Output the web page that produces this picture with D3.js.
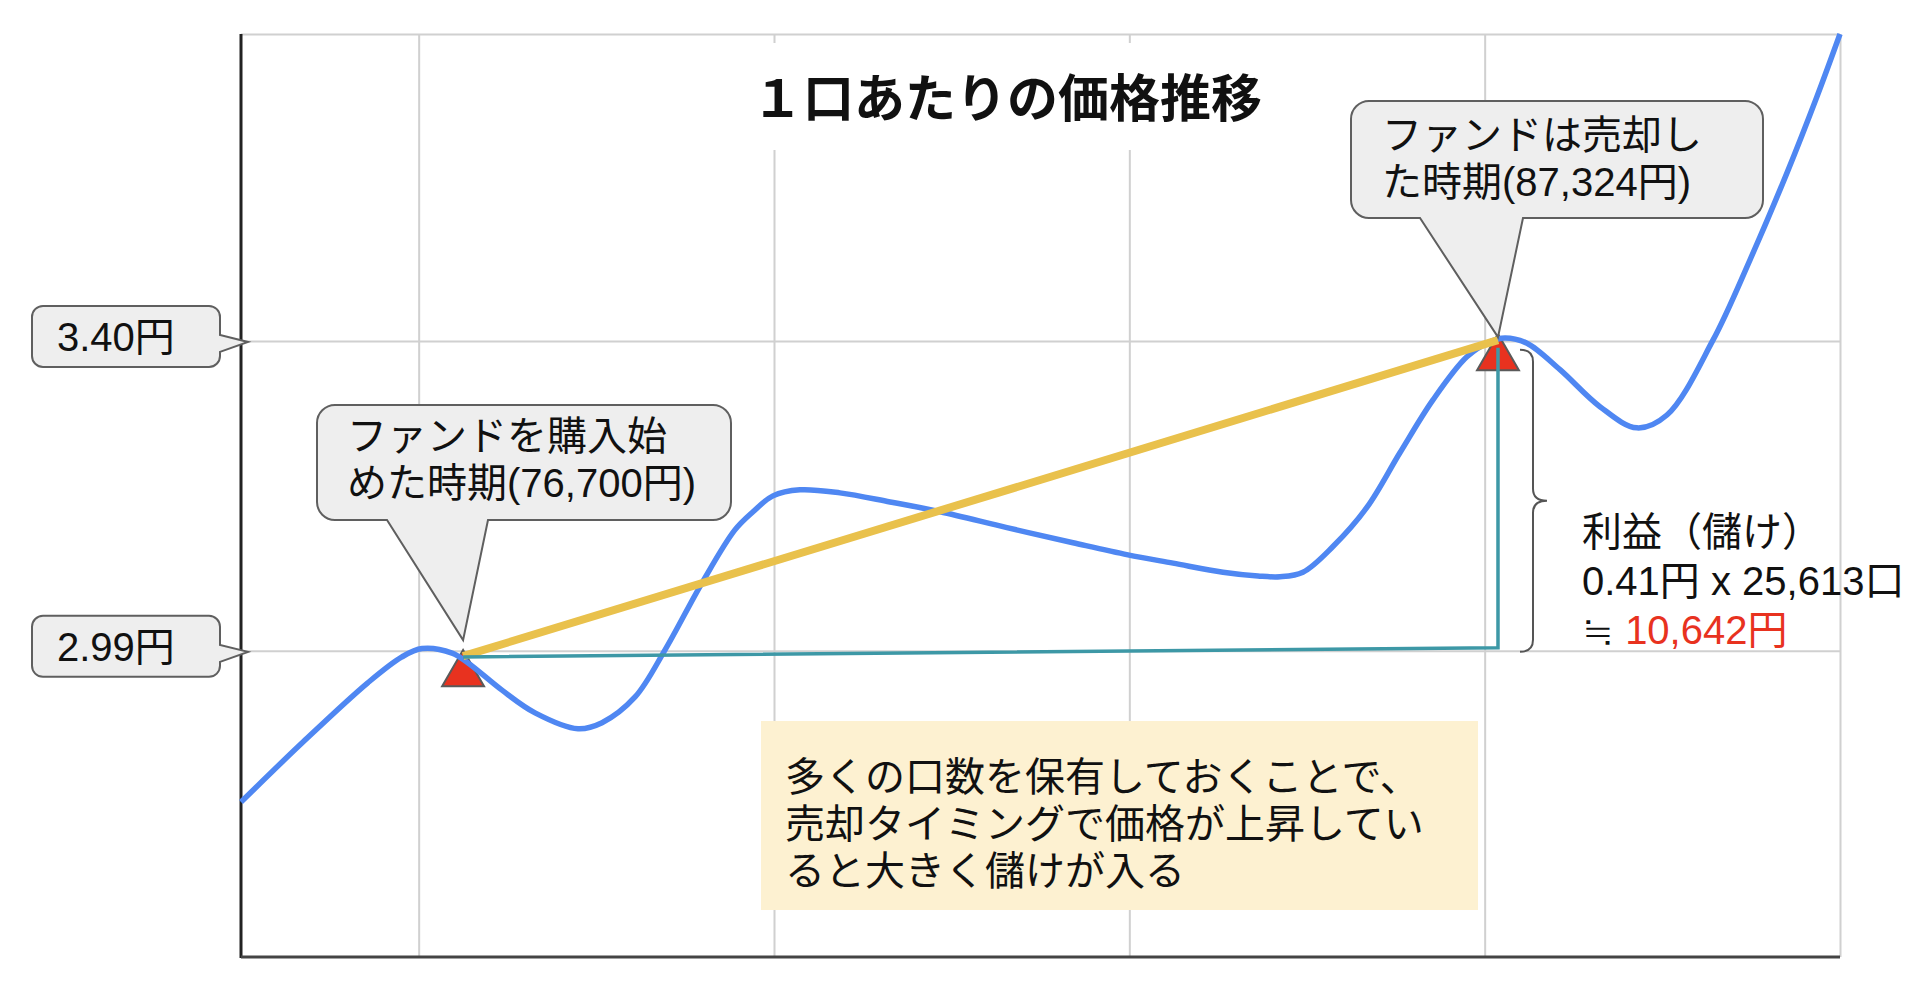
<!DOCTYPE html>
<html lang="ja">
<head>
<meta charset="utf-8">
<title>1口あたりの価格推移</title>
<script src="https://cdn.jsdelivr.net/npm/d3@7"></script>
<style>
  html, body { margin: 0; padding: 0; background: #fff; }
  svg { display: block; }
  text { font-family: "Liberation Sans", "Noto Sans CJK JP", sans-serif; fill: #111; }
</style>
</head>
<body>
<div id="chart"></div>
<script>
// 価格の推移（横軸は時期、縦軸は1口あたりの価格）
const timeX = [0, 0.343, 0.715, 0.906, 1.019, 1.188, 1.278, 1.469, 1.655, 1.897,
  2.032, 2.218, 2.386, 2.595, 2.780, 2.882, 2.994, 3.146, 3.371, 3.653,
  3.934, 4.311, 4.683, 4.992, 5.246, 5.527, 5.724, 5.848, 5.977, 6.146,
  6.338, 6.523, 6.709, 6.900, 7.030, 7.114, 7.238, 7.424, 7.649, 7.857,
  8.026, 8.285, 8.493, 8.701, 8.870, 9.0];
const priceY = [2.790, 2.868, 2.948, 2.982, 2.993, 2.987, 2.974, 2.938, 2.908, 2.887,
  2.895, 2.929, 2.991, 3.080, 3.150, 3.174, 3.195, 3.203, 3.199, 3.187,
  3.174, 3.153, 3.133, 3.117, 3.106, 3.094, 3.089, 3.088, 3.094, 3.128,
  3.180, 3.252, 3.322, 3.379, 3.399, 3.404, 3.397, 3.362, 3.313, 3.285,
  3.302, 3.401, 3.507, 3.622, 3.723, 3.806];

// 購入時と売却時
const tradeX = [1.25, 7.075];
const tradeY = [2.983, 3.401];
// 利益を示す線（購入価格の水平線 → 売却時の縦線）
const profitX = [1.25, 7.075, 7.075];
const profitY = [2.982, 2.994, 3.391];

// 縦軸の目盛り
const priceTicks = [3.40, 2.99];
const priceLabels = ['3.40円', '2.99円'];
const timeTicks = [1, 3, 5, 7, 9];

const title = '１口あたりの価格推移';
const buyText = ['ファンドを購入始', 'めた時期(76,700円)'];
const sellText = ['ファンドは売却し', 'た時期(87,324円)'];
const profitText = ['利益（儲け）', '0.41円 x 25,613口'];
const profitSum = ['≒ ', '10,642円'];
const noteText = ['多くの口数を保有しておくことで、', '売却タイミングで価格が上昇してい', 'ると大きく儲けが入る'];

const width = 1920;
const height = 983;
const margin = { top: 34, right: 80, bottom: 26, left: 241 };

const svg = d3.select('#chart').append('svg')
  .attr('width', width)
  .attr('height', height);

const x = d3.scaleLinear().domain([0, 9]).range([margin.left, width - margin.right]);
const y = d3.scaleLinear().domain([2.585, 3.806]).range([height - margin.bottom, margin.top]);

// グリッド線
const gridX = svg.append('g')
  .attr('transform', `translate(0,${margin.top})`)
  .call(d3.axisBottom(x).tickValues(timeTicks).tickSize(height - margin.top - margin.bottom).tickFormat(''));
gridX.select('.domain').remove();
gridX.selectAll('line').attr('stroke', '#d0d0d0').attr('stroke-width', 2);

const gridY = svg.append('g')
  .attr('transform', `translate(${margin.left},0)`)
  .call(d3.axisRight(y).tickValues(priceTicks.concat([3.806])).tickSize(width - margin.left - margin.right).tickFormat(''));
gridY.select('.domain').remove();
gridY.selectAll('line').attr('stroke', '#d0d0d0').attr('stroke-width', 2);

// 軸線
svg.append('line')
  .attr('x1', margin.left).attr('x2', margin.left)
  .attr('y1', margin.top).attr('y2', height - margin.bottom + 1)
  .attr('stroke', '#222').attr('stroke-width', 3);
svg.append('line')
  .attr('x1', margin.left).attr('x2', width - margin.right)
  .attr('y1', height - margin.bottom).attr('y2', height - margin.bottom)
  .attr('stroke', '#444').attr('stroke-width', 3);

// タイトル（白い背景でグリッドを隠す）
svg.append('rect')
  .attr('x', 745).attr('y', 43).attr('width', 540).attr('height', 107)
  .attr('fill', '#fff');
svg.append('text')
  .attr('x', 752).attr('y', 117)
  .attr('font-size', 51).attr('font-weight', 700)
  .text(title);

// 説明の箱
svg.append('rect')
  .attr('x', 761).attr('y', 721).attr('width', 717).attr('height', 189)
  .attr('fill', '#fdf1d1');
svg.append('g').selectAll('text')
  .data(noteText)
  .enter().append('text')
  .attr('x', 785)
  .attr('y', (d, i) => 791 + i * 47)
  .attr('font-size', 40)
  .text(d => d);

// 三角のマーカー
const tri = d3.symbol().type(d3.symbolTriangle).size(760);
svg.append('g').selectAll('path')
  .data(tradeX)
  .enter().append('path')
  .attr('d', tri)
  .attr('transform', (d, i) => `translate(${x(d)},${y(tradeY[i]) + 18})`)
  .attr('fill', '#e8321f')
  .attr('stroke', '#5a5a5a')
  .attr('stroke-width', 2);

// 価格の線
const line = d3.line()
  .x(d => x(d[0]))
  .y(d => y(d[1]))
  .curve(d3.curveCatmullRom.alpha(0.5));

svg.append('path')
  .datum(timeX.map((t, i) => [t, priceY[i]]))
  .attr('d', line)
  .attr('fill', 'none')
  .attr('stroke', '#4f87f2')
  .attr('stroke-width', 5.5)
  .attr('stroke-linejoin', 'round');

// 購入時と売却時を結ぶ線
const straight = d3.line()
  .x(d => x(d[0]))
  .y(d => y(d[1]));

svg.append('path')
  .datum(tradeX.map((t, i) => [t, tradeY[i]]))
  .attr('d', straight)
  .attr('fill', 'none')
  .attr('stroke', '#e9c14c')
  .attr('stroke-width', 8);

svg.append('path')
  .datum(profitX.map((t, i) => [t, profitY[i]]))
  .attr('d', straight)
  .attr('fill', 'none')
  .attr('stroke', '#3d98a6')
  .attr('stroke-width', 3.5);

// 吹き出しの形（下にしっぽ）
function calloutBottom(x0, y0, x1, y1, r, tx0, tx1, px, py) {
  const p = d3.path();
  p.moveTo(x0 + r, y0);
  p.lineTo(x1 - r, y0);
  p.arcTo(x1, y0, x1, y0 + r, r);
  p.lineTo(x1, y1 - r);
  p.arcTo(x1, y1, x1 - r, y1, r);
  p.lineTo(tx1, y1);
  p.lineTo(px, py);
  p.lineTo(tx0, y1);
  p.lineTo(x0 + r, y1);
  p.arcTo(x0, y1, x0, y1 - r, r);
  p.lineTo(x0, y0 + r);
  p.arcTo(x0, y0, x0 + r, y0, r);
  p.closePath();
  return p.toString();
}

// 吹き出しの形（右にしっぽ）
function calloutRight(x0, y0, x1, y1, r, ty0, ty1, px, py) {
  const p = d3.path();
  p.moveTo(x0 + r, y0);
  p.lineTo(x1 - r, y0);
  p.arcTo(x1, y0, x1, y0 + r, r);
  p.lineTo(x1, ty0);
  p.lineTo(px, py);
  p.lineTo(x1, ty1);
  p.lineTo(x1, y1 - r);
  p.arcTo(x1, y1, x1 - r, y1, r);
  p.lineTo(x0 + r, y1);
  p.arcTo(x0, y1, x0, y1 - r, r);
  p.lineTo(x0, y0 + r);
  p.arcTo(x0, y0, x0 + r, y0, r);
  p.closePath();
  return p.toString();
}

// 購入時の吹き出し
svg.append('path')
  .attr('d', calloutBottom(317, 405, 731, 520, 18, 387, 488, x(tradeX[0]), y(tradeY[0]) - 16))
  .attr('fill', '#eeeeee').attr('stroke', '#5f5f5f').attr('stroke-width', 2);
svg.append('g').selectAll('text')
  .data(buyText)
  .enter().append('text')
  .attr('x', 347)
  .attr('y', (d, i) => 450 + i * 47)
  .attr('font-size', 40)
  .text(d => d);

// 売却時の吹き出し
svg.append('path')
  .attr('d', calloutBottom(1351, 101, 1763, 218, 18, 1420, 1523, x(tradeX[1]), y(tradeY[1]) - 3))
  .attr('fill', '#eeeeee').attr('stroke', '#5f5f5f').attr('stroke-width', 2);
svg.append('g').selectAll('text')
  .data(sellText)
  .enter().append('text')
  .attr('x', 1382)
  .attr('y', (d, i) => 149 + i * 47)
  .attr('font-size', 40)
  .text(d => d);

// 縦軸の価格ラベル
const labels = svg.append('g').selectAll('g')
  .data(priceTicks)
  .enter().append('g');
labels.append('path')
  .attr('d', d => {
    const py = y(d);
    return calloutRight(32, py - 35, 220, py + 26, 11, py - 6, py + 11, 248, py + 1);
  })
  .attr('fill', '#eeeeee').attr('stroke', '#5f5f5f').attr('stroke-width', 2);
labels.append('text')
  .attr('x', 57)
  .attr('y', d => y(d) + 10)
  .attr('font-size', 40)
  .text((d, i) => priceLabels[i]);

// 利益を示す中かっこ
const bTop = y(profitY[2]) + 2;
const bBot = y(2.99) + 1;
const bMid = (bTop + bBot) / 2;
const brace = d3.path();
brace.moveTo(1520, bTop);
brace.quadraticCurveTo(1533, bTop, 1533, bTop + 12);
brace.lineTo(1533, bMid - 12);
brace.quadraticCurveTo(1533, bMid, 1547, bMid);
brace.quadraticCurveTo(1533, bMid, 1533, bMid + 12);
brace.lineTo(1533, bBot - 12);
brace.quadraticCurveTo(1533, bBot, 1520, bBot);
svg.append('path')
  .attr('d', brace.toString())
  .attr('fill', 'none').attr('stroke', '#555').attr('stroke-width', 2);

// 利益のテキスト
svg.append('g').selectAll('text')
  .data(profitText)
  .enter().append('text')
  .attr('x', 1582)
  .attr('y', (d, i) => 546 + i * 49)
  .attr('font-size', 40)
  .text(d => d);
const sum = svg.append('text')
  .attr('x', 1582).attr('y', 644)
  .attr('font-size', 40);
sum.append('tspan').text(profitSum[0]);
sum.append('tspan').style('fill', '#e8321f').text(profitSum[1]);
</script>
</body>
</html>
